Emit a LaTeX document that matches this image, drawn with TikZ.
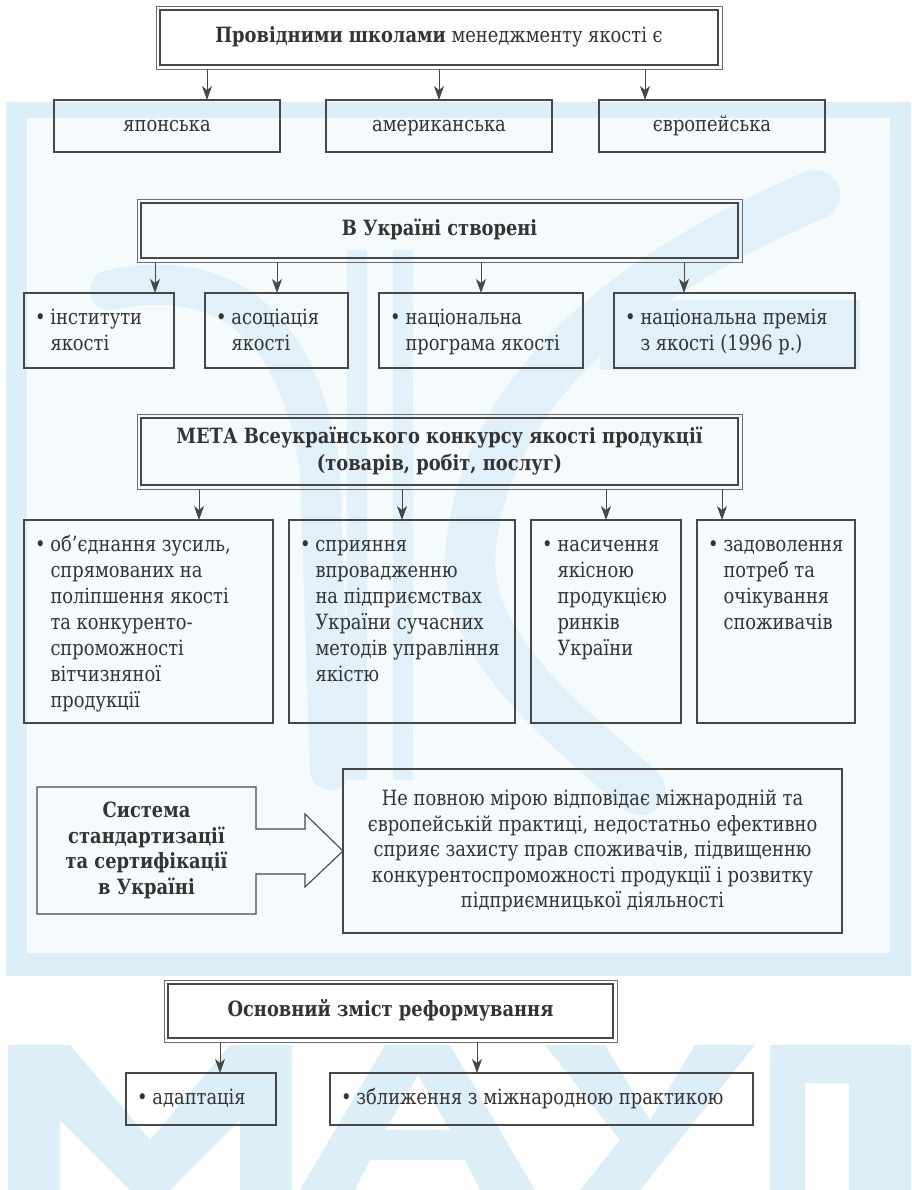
\documentclass[tikz,border=0pt]{standalone}
\usepackage{fontspec}
\setmainfont{DejaVu Serif}[FakeStretch=0.85]
\usetikzlibrary{arrows.meta,calc}
\definecolor{band}{HTML}{DCEEF8}
\definecolor{innerbg}{HTML}{F5FAFD}
\definecolor{wm}{HTML}{E1F0F9}
\definecolor{ink}{HTML}{333333}
\definecolor{edge}{HTML}{474747}
\newcommand{\bul}{\makebox[15.5pt][l]{\textbullet}}
\newcommand{\ind}{\hspace*{15.5pt}}
\begin{document}
\begin{tikzpicture}[x=1pt,y=-1pt,
  every node/.style={inner sep=0pt, outer sep=0pt, text=ink, font=\fontsize{21}{26}\selectfont},
  box/.style={draw=edge, line width=1.1pt},
  dbox/.style={draw=edge, line width=1.1pt, outer sep=4pt},
  outerline/.style={draw=edge!80, line width=0.9pt},
  lst/.style={align=left, anchor=north west},
  arr/.style={draw=edge, line width=1pt, -{Stealth[length=14pt,width=10pt,inset=4pt]}}
]
% ---------- background ----------
\fill[white] (0,0) rectangle (911,1190);
\useasboundingbox (0,0) rectangle (911,1190);
\fill[band] (6,102) rectangle (911,976);
\fill[innerbg] (27,118) rectangle (890,953);
% watermark emblem
\begin{scope}
\clip (27,118) rectangle (890,953);
\draw[wm, line width=40pt, line cap=round] (110,290) .. controls (230,265) and (300,330) .. (320,470) -- (330,770);
\draw[wm, line width=50pt, line cap=round] (815,195) .. controls (650,265) and (480,380) .. (470,560) .. controls (470,650) and (560,720) .. (640,790);
\fill[wm] (347,250) rectangle (367,780);
\fill[wm] (393,250) rectangle (413,780);
\fill[wm] (600,300) rectangle (860,370);
\end{scope}
% watermark letters
\fill[band] (8,1190) -- (8,1045) -- (70,1045) -- (150,1140) -- (230,1045) -- (292,1045) -- (292,1190) -- (240,1190) -- (240,1120) -- (170,1190) -- (130,1190) -- (60,1120) -- (60,1190) -- cycle;
\fill[band, even odd rule] (300,1190) -- (385,1045) -- (450,1045) -- (535,1190) -- (480,1190) -- (465,1160) -- (370,1160) -- (355,1190) -- cycle (385,1130) -- (418,1075) -- (450,1130) -- cycle;
\fill[band] (545,1045) -- (605,1045) -- (650,1120) -- (695,1045) -- (755,1045) -- (640,1190) -- (580,1190) -- (620,1140) -- cycle;
\fill[band] (770,1190) -- (770,1045) -- (911,1045) -- (911,1190) -- (849,1190) -- (849,1083) -- (805,1083) -- (805,1190) -- cycle;

% ---------- block 1 ----------
\node[dbox, minimum width=558pt, minimum height=55pt] (T) at (439,37.5)
  {\strut\textbf{Провідними школами} менеджменту якості є};
\draw[outerline] (T.north west) rectangle (T.south east);
\node[box, minimum width=226pt, minimum height=52pt] (J) at (167,126) {\strut японська};
\node[box, minimum width=226pt, minimum height=52pt] (A) at (439,126) {\strut американська};
\node[box, minimum width=226pt, minimum height=52pt] (E) at (712,126) {\strut європейська};
\draw[arr] (T.south -| 207,0) -- (J.north -| 207,0);
\draw[arr] (T.south -| 439,0) -- (A.north -| 439,0);
\draw[arr] (T.south -| 645,0) -- (E.north -| 645,0);

% ---------- block 2 ----------
\node[dbox, minimum width=597pt, minimum height=55pt] (U) at (439.5,230.5)
  {\strut\textbf{В Україні створені}};
\draw[outerline] (U.north west) rectangle (U.south east);
\node[box, minimum width=150pt, minimum height=75pt] (B1) at (99,330.5) {};
\node[box, minimum width=143pt, minimum height=75pt] (B2) at (276.5,330.5) {};
\node[box, minimum width=204pt, minimum height=75pt] (B3) at (481,330.5) {};
\node[box, minimum width=241pt, minimum height=75pt] (B4) at (734.5,330.5) {};
\node[lst] (tB1) at ([shift={(11pt,-13pt)}]B1.north west) {\strut\bul інститути\\\ind якості};
\node[lst] (tB2) at ([shift={(11pt,-13pt)}]B2.north west) {\strut\bul асоціація\\\ind якості};
\node[lst] (tB3) at ([shift={(11pt,-13pt)}]B3.north west) {\strut\bul національна\\\ind програма якості};
\node[lst] (tB4) at ([shift={(11pt,-13pt)}]B4.north west) {\strut\bul національна премія\\\ind з якості (1996 р.)};
\draw[arr] (U.south -| 155,0) -- (B1.north -| 155,0);
\draw[arr] (U.south -| 277,0) -- (B2.north -| 277,0);
\draw[arr] (U.south -| 481,0) -- (B3.north -| 481,0);
\draw[arr] (U.south -| 684,0) -- (B4.north -| 684,0);

% ---------- block 3 ----------
\node[dbox, minimum width=597pt, minimum height=67pt, align=center, font=\fontsize{21}{27}\selectfont\bfseries] (M) at (439.5,451.5)
  {МЕТА Всеукраїнського конкурсу якості продукції\\(товарів, робіт, послуг)};
\draw[outerline] (M.north west) rectangle (M.south east);
\node[box, minimum width=249pt, minimum height=203pt] (C1) at (148.5,621.5) {};
\node[box, minimum width=226pt, minimum height=203pt] (C2) at (402,621.5) {};
\node[box, minimum width=150pt, minimum height=203pt] (C3) at (606,621.5) {};
\node[box, minimum width=158pt, minimum height=203pt] (C4) at (776,621.5) {};
\node[lst] (tC1) at ([shift={(11pt,-13pt)}]C1.north west)
  {\strut\bul об’єднання зусиль,\\\ind спрямованих на\\\ind поліпшення якості\\\ind та конкуренто-\\\ind спроможності\\\ind вітчизняної\\\ind продукції};
\node[lst] (tC2) at ([shift={(11pt,-13pt)}]C2.north west)
  {\strut\bul сприяння\\\ind впровадженню\\\ind на підприємствах\\\ind України сучасних\\\ind методів управління\\\ind якістю};
\node[lst] (tC3) at ([shift={(11pt,-13pt)}]C3.north west)
  {\strut\bul насичення\\\ind якісною\\\ind продукцією\\\ind ринків\\\ind України};
\node[lst] (tC4) at ([shift={(11pt,-13pt)}]C4.north west)
  {\strut\bul задоволення\\\ind потреб та\\\ind очікування\\\ind споживачів};
\draw[arr] (M.south -| 199,0) -- (C1.north -| 199,0);
\draw[arr] (M.south -| 402,0) -- (C2.north -| 402,0);
\draw[arr] (M.south -| 606,0) -- (C3.north -| 606,0);
\draw[arr] (M.south -| 722,0) -- (C4.north -| 722,0);

% ---------- block 4 ----------
\node[minimum width=219pt, minimum height=127pt, align=center, font=\fontsize{21}{25.5}\selectfont\bfseries] (S) at (146.5,850.5)
  {Система\\стандартизації\\та сертифікації\\в Україні};
\node[box, minimum width=499pt, minimum height=164pt, align=center, font=\fontsize{21}{25.5}\selectfont] (R) at (592.5,851)
  {Не повною мірою відповідає міжнародній та\\європейській практиці, недостатньо ефективно\\сприяє захисту прав споживачів, підвищенню\\конкурентоспроможності продукції і розвитку\\підприємницької діяльності};
\draw[box, line join=miter] (S.north west) -- (S.north east) -- (256,829) -- (305,829) -- (305,814) -- (R.west) -- (305,887) -- (305,874) -- (256,874) -- (S.south east) -- (S.south west) -- cycle;

% ---------- block 5 ----------
\node[dbox, minimum width=445pt, minimum height=54pt] (O) at (390.5,1011)
  {\strut\textbf{Основний зміст реформування}};
\draw[outerline] (O.north west) rectangle (O.south east);
\node[box, minimum width=150pt, minimum height=52pt] (AD) at (201,1099) {};
\node[box, minimum width=423pt, minimum height=52pt] (ZB) at (541.5,1099) {};
\node[lst, anchor=west] (tAD) at ([xshift=11pt]AD.west) {\strut\bul адаптація};
\node[lst, anchor=west] (tZB) at ([xshift=11pt]ZB.west) {\strut\bul зближення з міжнародною практикою};
\draw[arr] (O.south -| 220,0) -- (AD.north -| 220,0);
\draw[arr] (O.south -| 477,0) -- (ZB.north -| 477,0);
\end{tikzpicture}
\end{document}
